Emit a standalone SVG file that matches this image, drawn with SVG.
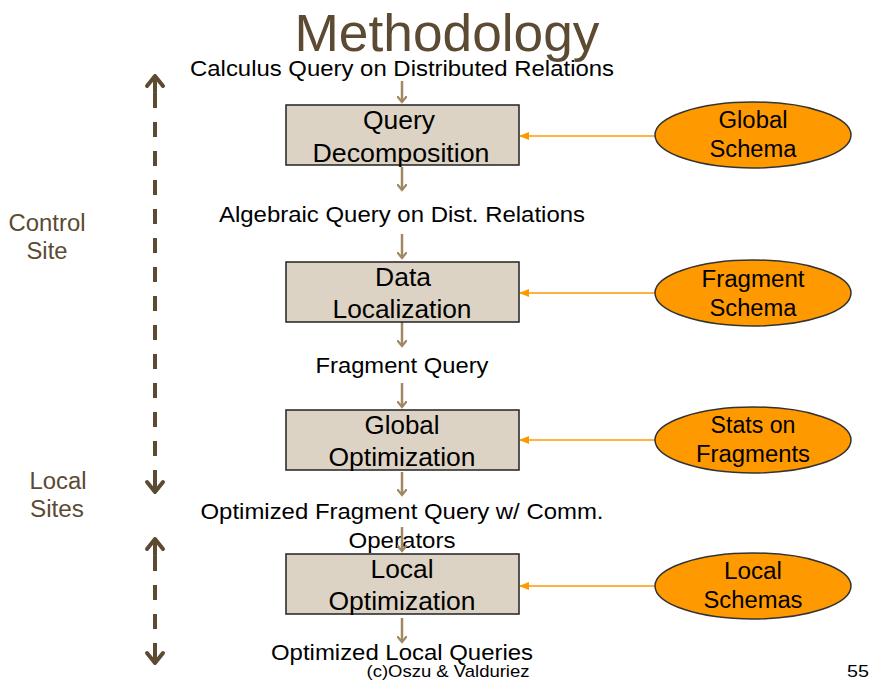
<svg xmlns="http://www.w3.org/2000/svg" width="870" height="683" viewBox="0 0 870 683">
<defs>
<style>
.t{font-family:"Liberation Sans",Arial,sans-serif;fill:#000}
.lbl{font-size:22.5px;text-anchor:middle}
.box rect{fill:#ddd3c4;stroke:#222;stroke-width:1.5}
.box text{font-size:26px;text-anchor:middle}
.ell ellipse{fill:#ff9900;stroke:#333;stroke-width:1.5}
.ell text{font-size:23.5px;text-anchor:middle}
.side{font-family:"Liberation Sans",Arial,sans-serif;fill:#5c4a32;font-size:23px;text-anchor:middle}
.flow{stroke:#a08862;stroke-width:2.5;fill:none;marker-end:url(#bh)}
.sch{stroke:#ff9900;stroke-width:1.5;fill:none;marker-end:url(#oh)}
.dash{stroke:#5c4a32;stroke-width:4;stroke-dasharray:15 14;fill:none}
.tip{stroke:#5c4a32;stroke-width:4;fill:none;stroke-linecap:round;stroke-linejoin:round}
</style>
<marker id="bh" markerWidth="10" markerHeight="10" refX="6" refY="5" orient="auto" markerUnits="userSpaceOnUse" viewBox="0 0 10 10">
<path d="M0,0 L6,5 L0,10" stroke="#a08862" stroke-width="2.2" fill="none"/>
</marker>
<marker id="oh" markerWidth="10" markerHeight="8" refX="9" refY="4" orient="auto" markerUnits="userSpaceOnUse" viewBox="0 0 10 8">
<path d="M0,0 L10,4 L0,8 z" fill="#ff9900"/>
</marker>
</defs>
<rect width="870" height="683" fill="#fff"/>
<text x="447" y="51" textLength="305" lengthAdjust="spacingAndGlyphs" style="font-family:'Liberation Sans',Arial,sans-serif;font-size:51px;fill:#5c4a32;text-anchor:middle">Methodology</text>

<g id="side-arrows">
<line class="dash" x1="155" y1="93" x2="155" y2="480"/>
<path class="tip" d="M147,86 L155,76 L163,86 M155,76 L155,92"/>
<path class="tip" d="M147,482 L155,492 L163,482 M155,476 L155,492"/>
<line class="dash" x1="155" y1="556" x2="155" y2="650"/>
<path class="tip" d="M147,549 L155,539 L163,549 M155,539 L155,555"/>
<path class="tip" d="M147,653 L155,663 L163,653 M155,647 L155,663"/>
</g>
<text class="side" x="47" y="231" textLength="77" lengthAdjust="spacingAndGlyphs">Control</text>
<text class="side" x="47" y="259" textLength="41" lengthAdjust="spacingAndGlyphs">Site</text>
<text class="side" x="58" y="489" textLength="57" lengthAdjust="spacingAndGlyphs">Local</text>
<text class="side" x="57" y="517" textLength="54" lengthAdjust="spacingAndGlyphs">Sites</text>

<g id="labels">
<text class="t lbl" x="402" y="76" textLength="424" lengthAdjust="spacingAndGlyphs">Calculus Query on Distributed Relations</text>
<text class="t lbl" x="402" y="222" textLength="366" lengthAdjust="spacingAndGlyphs">Algebraic Query on Dist. Relations</text>
<text class="t lbl" x="402" y="373" textLength="173" lengthAdjust="spacingAndGlyphs">Fragment Query</text>
<text class="t lbl" x="402" y="519" textLength="403" lengthAdjust="spacingAndGlyphs">Optimized Fragment Query w/ Comm.</text>
<text class="t lbl" x="402" y="548" textLength="107" lengthAdjust="spacingAndGlyphs">Operators</text>
<text class="t lbl" x="402" y="660" textLength="262" lengthAdjust="spacingAndGlyphs">Optimized Local Queries</text>
</g>

<g id="connectors">
<line class="flow" x1="402" y1="81" x2="402" y2="102"/>
<line class="flow" x1="402" y1="167" x2="402" y2="190"/>
<line class="flow" x1="402" y1="234" x2="402" y2="258"/>
<line class="flow" x1="402" y1="322" x2="402" y2="346"/>
<line class="flow" x1="402" y1="383" x2="402" y2="407"/>
<line class="flow" x1="402" y1="472" x2="402" y2="495"/>
<line class="flow" x1="402" y1="527" x2="402" y2="551"/>
<line class="flow" x1="402" y1="618" x2="402" y2="642"/>
<line class="sch" x1="655" y1="136" x2="520" y2="136"/>
<line class="sch" x1="655" y1="293" x2="520" y2="293"/>
<line class="sch" x1="655" y1="440" x2="520" y2="440"/>
<line class="sch" x1="655" y1="586" x2="520" y2="586"/>
</g>

<g id="query-decomposition" class="box">
<rect x="286" y="105" width="233" height="60"/>
<text class="t" x="399" y="129" textLength="72" lengthAdjust="spacingAndGlyphs">Query</text>
<text class="t" x="401" y="162" textLength="177" lengthAdjust="spacingAndGlyphs">Decomposition</text>
</g>
<g id="data-localization" class="box">
<rect x="286" y="262" width="233" height="60"/>
<text class="t" x="403" y="286" textLength="56" lengthAdjust="spacingAndGlyphs">Data</text>
<text class="t" x="402" y="318" textLength="139" lengthAdjust="spacingAndGlyphs">Localization</text>
</g>
<g id="global-optimization" class="box">
<rect x="286" y="410" width="233" height="60"/>
<text class="t" x="402" y="434" textLength="75" lengthAdjust="spacingAndGlyphs">Global</text>
<text class="t" x="402" y="466" textLength="147" lengthAdjust="spacingAndGlyphs">Optimization</text>
</g>
<g id="local-optimization" class="box">
<rect x="286" y="554" width="233" height="60"/>
<text class="t" x="402" y="578" textLength="63" lengthAdjust="spacingAndGlyphs">Local</text>
<text class="t" x="402" y="610" textLength="147" lengthAdjust="spacingAndGlyphs">Optimization</text>
</g>

<g id="global-schema" class="ell">
<ellipse cx="753" cy="135" rx="98" ry="33"/>
<text class="t" x="753" y="128" textLength="69" lengthAdjust="spacingAndGlyphs">Global</text>
<text class="t" x="753" y="157" textLength="87" lengthAdjust="spacingAndGlyphs">Schema</text>
</g>
<g id="fragment-schema" class="ell">
<ellipse cx="753" cy="293" rx="98" ry="33"/>
<text class="t" x="753" y="287" textLength="103" lengthAdjust="spacingAndGlyphs">Fragment</text>
<text class="t" x="753" y="316" textLength="87" lengthAdjust="spacingAndGlyphs">Schema</text>
</g>
<g id="stats-on-fragments" class="ell">
<ellipse cx="753" cy="440" rx="98" ry="33"/>
<text class="t" x="753" y="433" textLength="85" lengthAdjust="spacingAndGlyphs">Stats on</text>
<text class="t" x="753" y="462" textLength="114" lengthAdjust="spacingAndGlyphs">Fragments</text>
</g>
<g id="local-schemas" class="ell">
<ellipse cx="753" cy="586" rx="98" ry="33"/>
<text class="t" x="753" y="579" textLength="58" lengthAdjust="spacingAndGlyphs">Local</text>
<text class="t" x="753" y="608" textLength="99" lengthAdjust="spacingAndGlyphs">Schemas</text>
</g>

<text class="t" x="448" y="677" textLength="163" lengthAdjust="spacingAndGlyphs" style="font-size:17px;text-anchor:middle">(c)Oszu &amp; Valduriez</text>
<text class="t" x="869" y="677" textLength="22" lengthAdjust="spacingAndGlyphs" style="font-size:17px;text-anchor:end">55</text>
</svg>
